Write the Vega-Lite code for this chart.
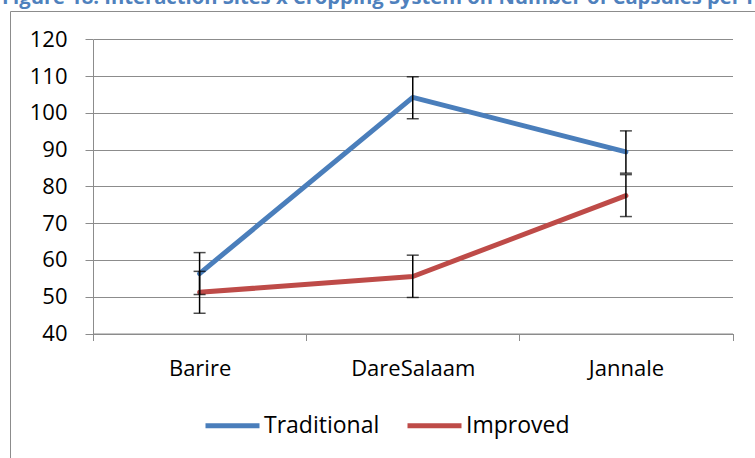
{
  "$schema": "https://vega.github.io/schema/vega-lite/v6.json",
  "autosize": "none",
  "width": 755,
  "height": 457,
  "padding": {"left": 10, "top": 11, "right": -10, "bottom": -10},
  "background": "white",
  "config": {
    "view": {"stroke": "#8c8c8c", "strokeWidth": 1},
    "font": "Open Sans"
  },
  "title": {
    "text": "Figure 18: Interaction Sites x Cropping System on Number of Capsules per Plant",
    "anchor": "start",
    "frame": "group",
    "dx": -8,
    "dy": 15,
    "font": "Open Sans",
    "fontSize": 20.2,
    "fontWeight": "bold",
    "color": "#4F81BD",
    "baseline": "alphabetic",
    "offset": 2
  },
  "data": {
    "values": [
      {"site": "Barire", "system": "Traditional", "value": 56.3, "lo": 50.6, "hi": 62.0},
      {"site": "DareSalaam", "system": "Traditional", "value": 104.2, "lo": 98.4, "hi": 109.8},
      {"site": "Jannale", "system": "Traditional", "value": 89.4, "lo": 83.6, "hi": 95.1},
      {"site": "Barire", "system": "Improved", "value": 51.2, "lo": 45.5, "hi": 56.9},
      {"site": "DareSalaam", "system": "Improved", "value": 55.5, "lo": 49.8, "hi": 61.3},
      {"site": "Jannale", "system": "Improved", "value": 77.5, "lo": 71.8, "hi": 83.2}
    ]
  },
  "encoding": {
    "x": {
      "field": "site",
      "type": "nominal",
      "sort": ["Barire", "DareSalaam", "Jannale"],
      "scale": {"range": [83, 722.5], "paddingInner": 0, "paddingOuter": 0},
      "axis": {
        "title": null,
        "orient": "bottom",
        "offset": -134.5,
        "labelAngle": 0,
        "tickBand": "extent",
        "tickSize": 7,
        "tickColor": "#8c8c8c",
        "domainColor": "#8c8c8c",
        "labelFont": "Open Sans",
        "labelFontSize": 22,
        "labelColor": "black",
        "labelPadding": 18,
        "grid": false
      }
    }
  },
  "layer": [
    {
      "mark": {"type": "line", "strokeWidth": 5, "strokeCap": "round", "strokeJoin": "round"},
      "encoding": {
        "y": {
          "field": "value",
          "type": "quantitative",
          "scale": {"domain": [40, 120], "range": [322.5, 28.3], "nice": false, "zero": false},
          "axis": {
            "title": null,
            "orient": "left",
            "offset": -83,
            "values": [40, 50, 60, 70, 80, 90, 100, 110, 120],
            "grid": true,
            "gridColor": "#8c8c8c",
            "gridWidth": 1,
            "tickSize": 8,
            "tickColor": "#8c8c8c",
            "domainColor": "#8c8c8c",
            "labelFont": "Open Sans",
            "labelFontSize": 22,
            "labelColor": "black",
            "labelPadding": 18
          }
        },
        "color": {
          "field": "system",
          "type": "nominal",
          "scale": {"domain": ["Traditional", "Improved"], "range": ["#4A7EBB", "#BE4B48"]},
          "legend": {
            "title": null,
            "orient": "none",
            "direction": "horizontal",
            "legendX": 193,
            "legendY": 385,
            "padding": 0,
            "symbolType": "stroke",
            "symbolSize": 2916,
            "symbolStrokeWidth": 5,
            "labelFont": "Open Sans",
            "labelFontSize": 23,
            "labelColor": "black",
            "labelOffset": 2,
            "columnPadding": 17
          }
        }
      }
    },
    {
      "mark": {"type": "rule", "color": "black", "strokeWidth": 1.5},
      "encoding": {
        "y": {"field": "lo", "type": "quantitative"},
        "y2": {"field": "hi"}
      }
    },
    {
      "mark": {"type": "tick", "color": "black", "thickness": 1.5, "size": 12},
      "encoding": {
        "y": {"field": "lo", "type": "quantitative"}
      }
    },
    {
      "mark": {"type": "tick", "color": "black", "thickness": 1.5, "size": 12},
      "encoding": {
        "y": {"field": "hi", "type": "quantitative"}
      }
    }
  ]
}
